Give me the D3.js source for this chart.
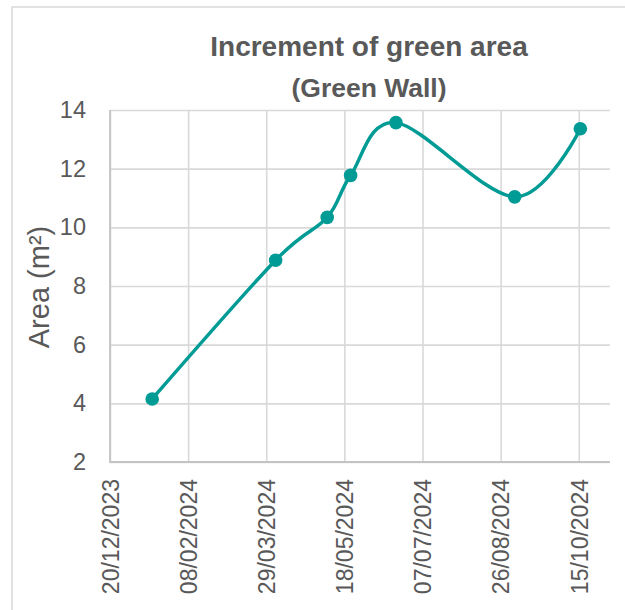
<!DOCTYPE html>
<html><head><meta charset="utf-8">
<script src="https://cdn.jsdelivr.net/npm/d3@7"></script>
<style>body{margin:0;background:#fff}svg{display:block}</style>
</head><body><svg id="c" width="625" height="610"></svg>
<script>
// ---- data ----
const sampleDates = ["2024-01-16","2024-04-04","2024-05-07","2024-05-22","2024-06-20","2024-09-04","2024-10-16"];
const areaValues  = [4.15, 8.88, 10.34, 11.77, 13.57, 11.04, 13.36];
const xTickDates  = ["2023-12-20","2024-02-08","2024-03-29","2024-05-18","2024-07-07","2024-08-26","2024-10-15"];
const xDomainDates = ["2023-12-20","2024-11-04"];
const yTicks = [2,4,6,8,10,12,14];
const yDomain = [2,14];
const titleLines = ["Increment of green area","(Green Wall)"];
const yTitle = "Area (m²)";

// ---- layout ----
const W = 625, H = 610;
const plot = {left:110, right:610, top:110, bottom:462};
const FONT = "'Liberation Sans', Arial, sans-serif";
const TEXT = "#595959", GRID = "#d9d9d9", AXIS = "#c4c4c4", LINE = "#009b95";

const parse = d3.utcParse("%Y-%m-%d");
const fmt = d3.utcFormat("%d/%m/%Y");
const data = sampleDates.map((d,i)=>({date:parse(d), value:areaValues[i]}));

const svg = d3.select("#c");

// outer chart border (top and left visible)
svg.append("path")
  .attr("d", d3.line()([[12,H],[12,7],[W,7]]))
  .attr("fill","none").attr("stroke",GRID).attr("stroke-width",1.5);

const x = d3.scaleUtc().domain(xDomainDates.map(parse)).range([plot.left, plot.right]);
const y = d3.scaleLinear().domain(yDomain).range([plot.bottom, plot.top]);

// horizontal gridlines
const yAxisG = svg.append("g").attr("transform",`translate(${plot.left},0)`)
  .call(d3.axisLeft(y).tickValues(yTicks).tickSize(-(plot.right-plot.left)).tickPadding(24).tickFormat(d3.format("d")));
yAxisG.select(".domain").remove();
yAxisG.selectAll(".tick line").attr("stroke",GRID).attr("stroke-width",1.6);
yAxisG.selectAll(".tick text").attr("fill",TEXT).style("font-family",FONT).style("font-size","23.5px");

// vertical gridlines + labels
const xAxisG = svg.append("g").attr("transform",`translate(0,${plot.bottom})`)
  .call(d3.axisBottom(x).tickValues(xTickDates.map(parse)).tickSize(-(plot.bottom-plot.top)).tickFormat(fmt));
xAxisG.select(".domain").remove();
xAxisG.selectAll(".tick line").attr("stroke",GRID).attr("stroke-width",1.6);
xAxisG.selectAll(".tick text")
  .attr("fill",TEXT).style("font-family",FONT).style("font-size","23px")
  .attr("text-anchor","end").attr("transform","rotate(-90)")
  .attr("x",-17).attr("y",0).attr("dy","0.36em");

// axis lines (left and bottom)
svg.append("path")
  .attr("d", d3.line()([[plot.left, plot.top],[plot.left, plot.bottom],[plot.right, plot.bottom]]))
  .attr("fill","none").attr("stroke",AXIS).attr("stroke-width",1.8);

// smoothed line
const line = d3.line().x(d=>x(d.date)).y(d=>y(d.value)).curve(d3.curveCardinal.tension(0));
svg.append("path").datum(data).attr("d",line)
  .attr("fill","none").attr("stroke",LINE).attr("stroke-width",3.5);

svg.append("g").selectAll("circle").data(data).join("circle")
  .attr("cx",d=>x(d.date)).attr("cy",d=>y(d.value)).attr("r",6.8).attr("fill",LINE);

// titles
svg.append("text").attr("x",369).attr("y",56).attr("text-anchor","middle")
  .attr("fill",TEXT).style("font-family",FONT).style("font-weight","bold").style("font-size","28px")
  .text(titleLines[0]);
svg.append("text").attr("x",369).attr("y",97).attr("text-anchor","middle")
  .attr("fill",TEXT).style("font-family",FONT).style("font-weight","bold").style("font-size","26.5px")
  .text(titleLines[1]);

svg.append("text").attr("transform","translate(49,287) rotate(-90)").attr("text-anchor","middle")
  .attr("fill",TEXT).style("font-family",FONT).style("font-size","29px")
  .text(yTitle);
</script></body></html>
